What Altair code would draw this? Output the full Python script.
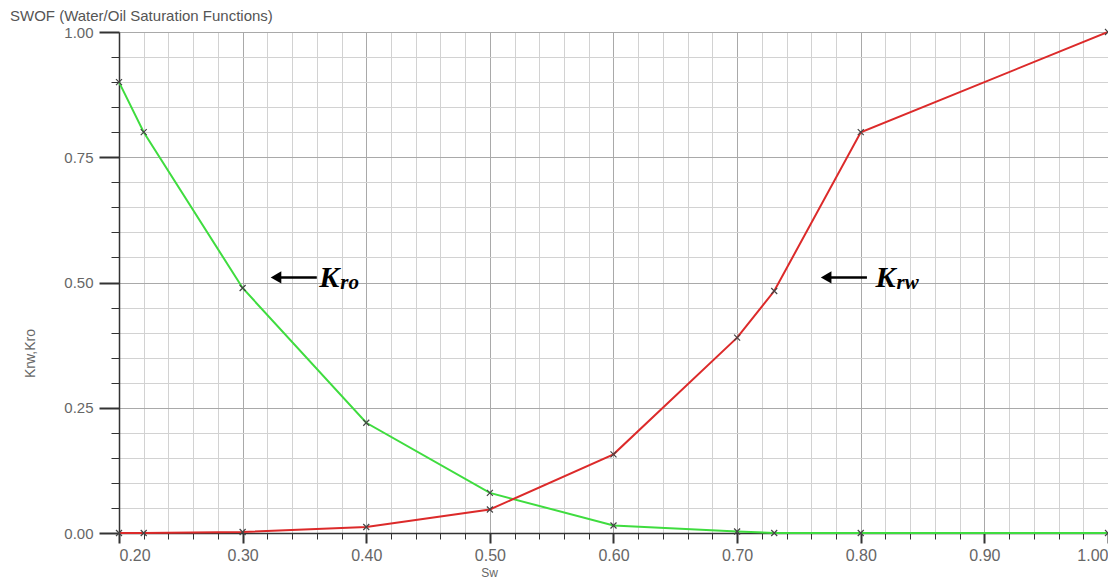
import altair as alt
import pandas as pd

# ---- data ----
sw = [0.20, 0.22, 0.30, 0.40, 0.50, 0.60, 0.70, 0.73, 0.80, 1.00]
kro = [0.90, 0.80, 0.489, 0.22, 0.08, 0.015, 0.003, 0.0, 0.0, 0.0]
krw = [0.0, 0.0, 0.002, 0.012, 0.047, 0.157, 0.39, 0.483, 0.80, 1.00]

x_ticks = [round(0.20 + 0.02 * i, 2) for i in range(41)]
y_ticks = [round(0.05 * i, 2) for i in range(21)]

# annotation anchors (data space)
ann_series = ["Kro", "Krw"]
ann_tip_x = [0.327, 0.772]
ann_tail_x = [0.360, 0.805]
ann_text_x = [0.362, 0.812]
ann_y = [0.51, 0.51]
ann_sub = ["ro", "rw"]

GREEN = "#3fdc3f"
RED = "#dc2a2a"

df = pd.DataFrame(
    {
        "Sw": sw * 2,
        "K": kro + krw,
        "series": ["Kro"] * len(sw) + ["Krw"] * len(sw),
    }
)
ann = pd.DataFrame(
    {
        "series": ann_series,
        "tip": ann_tip_x,
        "tail": ann_tail_x,
        "tx": ann_text_x,
        "y": ann_y,
        "sub": ann_sub,
    }
)

x_major = "abs(datum.value*10 - round(datum.value*10)) < 0.000001"
y_major = "abs(datum.value*4 - round(datum.value*4)) < 0.000001"

xscale = alt.Scale(domain=[0.2, 1.0], nice=False, zero=False)
yscale = alt.Scale(domain=[0, 1.0], nice=False)

x_axis = alt.Axis(
    title="Sw",
    values=x_ticks,
    tickCount=500,
    labelExpr=f"({x_major}) ? format(datum.value, '.2f') : ''",
    labelFlush=True,
    labelOverlap=False,
    labelFont="Liberation Sans",
    labelFontSize=16,
    labelColor="#666666",
    labelPadding=4,
    grid=True,
    gridColor={"condition": {"test": x_major, "value": "#a9a9a9"}, "value": "#d2d2d2"},
    gridWidth=1,
    ticks=True,
    tickColor="#333333",
    tickSize={"condition": {"test": x_major, "value": 10}, "value": 6},
    tickWidth={"condition": {"test": x_major, "value": 2}, "value": 1},
    domainColor="#333333",
    domainWidth=1.5,
    titleFont="Liberation Sans",
    titleFontSize=12,
    titleFontWeight="normal",
    titleColor="#666666",
    titleX=370,
    titleY=39,
    titleBaseline="middle",
)

y_axis = alt.Axis(
    title="Krw,Kro",
    values=y_ticks,
    tickCount=500,
    labelExpr=f"({y_major}) ? format(datum.value, '.2f') : ''",
    labelOverlap=False,
    labelFont="Liberation Sans",
    labelFontSize=15,
    labelColor="#666666",
    labelPadding=6,
    grid=True,
    gridColor={"condition": {"test": y_major, "value": "#a9a9a9"}, "value": "#d2d2d2"},
    gridWidth=1,
    ticks=True,
    tickColor="#333333",
    tickSize={"condition": {"test": y_major, "value": 20}, "value": 8},
    tickWidth={"condition": {"test": y_major, "value": 2}, "value": 1},
    domainColor="#333333",
    domainWidth=1.5,
    titleFont="Liberation Sans",
    titleFontSize=14,
    titleFontWeight="normal",
    titleColor="#666666",
    titleX=-89,
    titleY=321,
    titleBaseline="middle",
)

color = alt.Color(
    "series:N",
    scale=alt.Scale(domain=["Kro", "Krw"], range=[GREEN, RED]),
    legend=None,
)

base = alt.Chart(df)

lines = base.mark_line(strokeWidth=2).encode(
    x=alt.X("Sw:Q", scale=xscale, axis=x_axis),
    y=alt.Y("K:Q", scale=yscale, axis=y_axis),
    color=color,
    order="Sw:Q",
)

points = base.mark_point(
    shape="M-1,-1L1,1M-1,1L1,-1",
    filled=False,
    stroke="#444444",
    strokeWidth=1.2,
    size=36,
    opacity=1,
).encode(
    x=alt.X("Sw:Q", scale=xscale),
    y=alt.Y("K:Q", scale=yscale),
)

abase = alt.Chart(ann)

arrow_line = abase.mark_rule(color="black", strokeWidth=2.5).encode(
    x=alt.X("tip:Q", scale=xscale),
    x2="tail:Q",
    y=alt.Y("y:Q", scale=yscale),
)

arrow_head = abase.mark_point(
    shape="triangle-left", filled=True, color="black", size=150, opacity=1
).encode(
    x=alt.X("tip:Q", scale=xscale),
    y=alt.Y("y:Q", scale=yscale),
)

k_text = abase.mark_text(
    text="K",
    font="Liberation Serif",
    fontSize=30,
    fontWeight="bold",
    fontStyle="italic",
    align="left",
    baseline="middle",
    color="black",
    dy=1,
).encode(
    x=alt.X("tx:Q", scale=xscale),
    y=alt.Y("y:Q", scale=yscale),
)

sub_text = abase.mark_text(
    font="Liberation Serif",
    fontSize=21,
    fontWeight="bold",
    fontStyle="italic",
    align="left",
    baseline="middle",
    color="black",
    dx=21,
    dy=6,
).encode(
    x=alt.X("tx:Q", scale=xscale),
    y=alt.Y("y:Q", scale=yscale),
    text="sub:N",
)

chart = (
    alt.layer(lines, points, arrow_line, arrow_head, k_text, sub_text)
    .properties(
        width=989,
        height=501,
        autosize=alt.AutoSizeParams(type="none"),
        padding={"left": 111, "top": 24, "right": 0, "bottom": 47},
        title=alt.Title(
            "SWOF (Water/Oil Saturation Functions)",
            anchor="start",
            dx=-13,
            dy=5,
            offset=6,
            font="Liberation Sans",
            fontSize=15,
            fontWeight="normal",
            color="#555555",
        ),
        background="white",
    )
    .configure_view(stroke=None)
)

chart.save("out.html", embed_options={"renderer": "svg", "actions": False})
